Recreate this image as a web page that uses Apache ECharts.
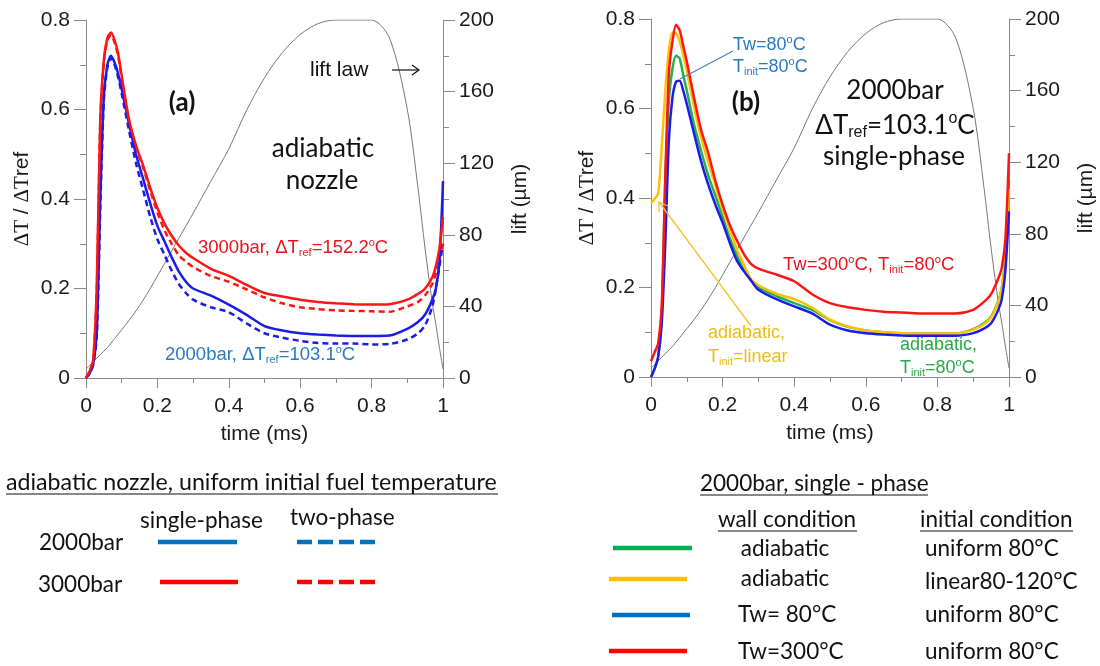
<!DOCTYPE html>
<html>
<head>
<meta charset="utf-8">
<script src="https://cdn.jsdelivr.net/npm/echarts@6/dist/echarts.min.js"></script>
<style>
  html, body { margin: 0; padding: 0; background: #fff; }
  #chart { width: 1100px; height: 666px; }
</style>
</head>
<body>
<div id="chart"></div>
<script>
// shared time grid (ms)
const time = [0, 0.01, 0.02, 0.03, 0.04, 0.05, 0.06, 0.07, 0.08, 0.09, 0.1, 0.12, 0.14, 0.16, 0.18, 0.2,
  0.22, 0.24, 0.26, 0.28, 0.3, 0.35, 0.4, 0.45, 0.5, 0.55, 0.6, 0.65, 0.7, 0.75, 0.8, 0.85, 0.9, 0.93,
  0.95, 0.97, 0.98, 0.99, 1.0];

// needle lift law (µm)
const liftLaw = [5, 7, 9, 11, 13, 15, 17, 19.5, 22, 24.5, 27, 32, 37.5, 43.5, 50, 57,
  64, 71, 78, 85, 92, 110, 128, 149.6, 167.7, 181.8, 191.9, 198, 200, 200, 200, 190, 150, 106,
  72, 42, 30, 17, 5];

// (a) adiabatic nozzle, uniform initial temperature
const a2000Single = [0, 0.01, 0.03, 0.1, 0.4, 0.63, 0.7, 0.72, 0.705, 0.68, 0.645, 0.57, 0.5, 0.445, 0.39, 0.34,
  0.305, 0.27, 0.238, 0.215, 0.2, 0.184, 0.164, 0.141, 0.116, 0.106, 0.1, 0.097, 0.095, 0.094, 0.094, 0.095, 0.11, 0.125,
  0.142, 0.175, 0.2, 0.26, 0.44];
const a2000Two = [0, 0.01, 0.03, 0.09, 0.38, 0.62, 0.695, 0.715, 0.7, 0.672, 0.635, 0.555, 0.48, 0.42, 0.36, 0.31,
  0.275, 0.24, 0.21, 0.19, 0.175, 0.158, 0.147, 0.122, 0.1, 0.09, 0.083, 0.078, 0.077, 0.077, 0.075, 0.076, 0.086, 0.1,
  0.118, 0.16, 0.2, 0.25, 0.3];
const a3000Single = [0, 0.015, 0.04, 0.2, 0.58, 0.71, 0.76, 0.772, 0.755, 0.725, 0.675, 0.58, 0.52, 0.475, 0.425, 0.38,
  0.345, 0.318, 0.296, 0.28, 0.268, 0.244, 0.228, 0.208, 0.19, 0.182, 0.175, 0.17, 0.167, 0.165, 0.164, 0.165, 0.175, 0.188,
  0.2, 0.225, 0.25, 0.29, 0.36];
const a3000Two = [0, 0.015, 0.04, 0.19, 0.57, 0.705, 0.755, 0.766, 0.75, 0.72, 0.67, 0.575, 0.515, 0.47, 0.418, 0.37,
  0.33, 0.3, 0.274, 0.26, 0.248, 0.228, 0.215, 0.198, 0.18, 0.167, 0.158, 0.154, 0.151, 0.15, 0.149, 0.148, 0.16, 0.17,
  0.185, 0.21, 0.235, 0.27, 0.3];

// (b) 2000bar single-phase, wall / initial condition
const bAdiabaticUniform = [0, 0.018, 0.045, 0.14, 0.44, 0.62, 0.69, 0.718, 0.712, 0.675, 0.64, 0.565, 0.505, 0.45, 0.405, 0.358,
  0.31, 0.272, 0.238, 0.215, 0.2, 0.181, 0.165, 0.15, 0.127, 0.112, 0.104, 0.1, 0.098, 0.097, 0.097, 0.097, 0.107, 0.12,
  0.135, 0.17, 0.2, 0.27, 0.44];
const bAdiabaticLinear = [0.388, 0.398, 0.41, 0.515, 0.64, 0.73, 0.77, 0.768, 0.75, 0.72, 0.685, 0.605, 0.535, 0.48, 0.428, 0.375,
  0.33, 0.285, 0.25, 0.218, 0.205, 0.186, 0.174, 0.155, 0.128, 0.113, 0.104, 0.1, 0.098, 0.097, 0.097, 0.097, 0.106, 0.118,
  0.133, 0.168, 0.2, 0.27, 0.42];
const bWall80 = [0, 0.018, 0.045, 0.12, 0.3, 0.53, 0.625, 0.66, 0.662, 0.64, 0.61, 0.545, 0.482, 0.43, 0.385, 0.345,
  0.3, 0.26, 0.236, 0.215, 0.195, 0.174, 0.158, 0.142, 0.117, 0.104, 0.098, 0.095, 0.093, 0.092, 0.092, 0.092, 0.098, 0.108,
  0.12, 0.15, 0.175, 0.24, 0.37];
const bWall300 = [0.035, 0.055, 0.075, 0.16, 0.45, 0.68, 0.75, 0.787, 0.775, 0.74, 0.705, 0.625, 0.552, 0.5, 0.438, 0.385,
  0.34, 0.305, 0.274, 0.252, 0.242, 0.229, 0.214, 0.185, 0.165, 0.156, 0.15, 0.146, 0.144, 0.142, 0.142, 0.142, 0.15, 0.168,
  0.185, 0.22, 0.245, 0.31, 0.5];

const RED = '#ff1414';
const BLUE = '#1c1ce8';
const GREEN = '#22b14c';
const YELLOW = '#ffc000';
const TXT_BLUE = '#2a7abf';
const TXT_RED = '#e8141c';
const TXT_GREEN = '#2aa84a';
const TXT_YELLOW = '#eebb10';
const ARIAL = '"Liberation Sans", Arial, sans-serif';
const CALIBRI = 'Lato, "Noto Sans", sans-serif';

const chart = echarts.init(document.getElementById('chart'));

function pairs(values) {
  return time.map((t, i) => [t, values[i]]);
}

function curve(name, panel, values, color, dashed) {
  return {
    name: name,
    type: 'line',
    xAxisIndex: panel,
    yAxisIndex: panel * 2,
    data: pairs(values),
    showSymbol: false,
    smooth: 0.25,
    silent: true,
    lineStyle: { color: color, width: 2.5, type: dashed ? [6, 4] : 'solid' }
  };
}

function liftCurve(panel) {
  return {
    name: 'lift law',
    type: 'line',
    xAxisIndex: panel,
    yAxisIndex: panel * 2 + 1,
    data: pairs(liftLaw),
    showSymbol: false,
    smooth: 0.3,
    silent: true,
    lineStyle: { color: '#777', width: 1 }
  };
}

const axisColor = '#8a8a8a';
const labelStyle = { color: '#1a1a1a', fontSize: 21, fontFamily: ARIAL };

function xAxisFor(grid) {
  return {
    type: 'value', gridIndex: grid, min: 0, max: 1, interval: 0.2,
    name: 'time (ms)', nameLocation: 'middle', nameGap: 46,
    nameTextStyle: { color: '#1a1a1a', fontSize: 21, fontFamily: ARIAL },
    axisLine: { show: true, lineStyle: { color: axisColor } },
    axisTick: { show: true, length: 10, lineStyle: { color: axisColor } },
    minorTick: { show: true, splitNumber: 2, length: 5, lineStyle: { color: axisColor } },
    splitLine: { show: false },
    axisLabel: Object.assign({ margin: 18 }, labelStyle)
  };
}

function leftAxisFor(grid) {
  return {
    type: 'value', gridIndex: grid, min: 0, max: 0.8, interval: 0.2, position: 'left',
    name: '{s|ΔT} / {s|ΔT}ref', nameLocation: 'middle', nameGap: 53, nameRotate: 90,
    nameTextStyle: {
      color: '#1a1a1a', fontSize: 21, fontFamily: ARIAL,
      rich: { s: { fontSize: 21, fontFamily: '"Liberation Serif", "DejaVu Serif", serif', color: '#1a1a1a' } }
    },
    axisLine: { show: true, lineStyle: { color: axisColor } },
    axisTick: { show: true, length: 12, lineStyle: { color: axisColor } },
    minorTick: { show: true, splitNumber: 2, length: 6, lineStyle: { color: axisColor } },
    splitLine: { show: false },
    axisLabel: Object.assign({ margin: 16 }, labelStyle)
  };
}

function rightAxisFor(grid) {
  return {
    type: 'value', gridIndex: grid, min: 0, max: 200, interval: 40, position: 'right',
    name: 'lift (µm)', nameLocation: 'middle', nameGap: 67, nameRotate: 90,
    nameTextStyle: { color: '#1a1a1a', fontSize: 21, fontFamily: ARIAL },
    axisLine: { show: true, lineStyle: { color: axisColor } },
    axisTick: { show: true, length: 12, lineStyle: { color: axisColor } },
    minorTick: { show: true, splitNumber: 2, length: 6, lineStyle: { color: axisColor } },
    splitLine: { show: false },
    axisLabel: Object.assign({ margin: 16 }, labelStyle)
  };
}

// rich styles for sub/superscripts in annotations
function richFor(size, color) {
  return {
    sub: { fontSize: Math.round(size * 0.62), fill: color, color: color, padding: [Math.round(size * 0.55), 0, 0, 0] },
    sup: { fontSize: Math.round(size * 0.62), fill: color, color: color, padding: [0, 0, Math.round(size * 0.55), 0] }
  };
}

function label(x, y, text, size, color, opts) {
  opts = opts || {};
  return {
    type: 'text', x: x, y: y, silent: true, z: 10,
    style: {
      text: text,
      fill: color,
      fontSize: size,
      fontFamily: opts.family || ARIAL,
      fontWeight: opts.weight || 'normal',
      align: opts.align || 'left',
      textAlign: opts.align || 'left',
      verticalAlign: 'middle',
      textVerticalAlign: 'middle',
      rich: richFor(size, color)
    }
  };
}

function segment(x1, y1, x2, y2, color, width, dash) {
  return {
    type: 'line', silent: true, z: 10,
    shape: { x1: x1, y1: y1, x2: x2, y2: y2 },
    style: { stroke: color, lineWidth: width, lineDash: dash || null }
  };
}

function arrowHead(points, color, width) {
  return {
    type: 'polyline', silent: true, z: 10,
    shape: { points: points },
    style: { stroke: color, lineWidth: width, fill: null }
  };
}

const graphics = [
  // panel (a) annotations
  label(182, 103, '(a)', 26, '#111', { family: CALIBRI, weight: 'bold', align: 'center' }),
  label(323, 149, 'adiabatic', 26, '#111', { family: CALIBRI, align: 'center' }),
  label(322, 181, 'nozzle', 26, '#111', { family: CALIBRI, align: 'center' }),
  label(310, 70, 'lift law', 21, '#111'),
  segment(392, 70, 419, 70, '#111', 1.2),
  arrowHead([[412, 65], [419, 70], [412, 75]], '#111', 1.2),
  label(198, 248, '3000bar, ΔT{sub|ref}=152.2{sup|o}C', 18.5, TXT_RED),
  label(165, 355, '2000bar, ΔT{sub|ref}=103.1{sup|o}C', 18.5, TXT_BLUE),

  // panel (b) annotations
  label(746, 103, '(b)', 26, '#111', { family: CALIBRI, weight: 'bold', align: 'center' }),
  label(733, 45, 'Tw=80{sup|o}C', 18, TXT_BLUE),
  label(733, 67, 'T{sub|init}=80{sup|o}C', 18, TXT_BLUE),
  segment(733, 51, 680, 79, '#4a7ebb', 1.2),
  label(895, 91, '2000bar', 26, '#111', { family: CALIBRI, align: 'center' }),
  label(895, 126, 'ΔT{sub|ref}=103.1{sup|o}C', 26, '#111', { family: CALIBRI, align: 'center' }),
  label(894, 157, 'single-phase', 26, '#111', { family: CALIBRI, align: 'center' }),
  label(783, 265, 'Tw=300{sup|o}C, T{sub|init}=80{sup|o}C', 18.5, TXT_RED),
  label(708, 333, 'adiabatic,', 18, TXT_YELLOW),
  label(708, 357, 'T{sub|init}=linear', 18, TXT_YELLOW),
  segment(751, 326, 659, 202, '#f2c230', 1.3),
  arrowHead([[659, 212], [659, 202], [668, 206]], '#f2c230', 1.3),
  label(900, 345, 'adiabatic,', 18, TXT_GREEN),
  label(900, 368, 'T{sub|init}=80{sup|o}C', 18, TXT_GREEN),

  // left legend
  label(6, 483, 'adiabatic nozzle, uniform initial fuel temperature', 23.2, '#111', { family: CALIBRI }),
  segment(6, 494, 498, 494, '#111', 1),
  label(140, 521, 'single-phase', 22.5, '#111', { family: CALIBRI }),
  label(290, 518, 'two-phase', 22.5, '#111', { family: CALIBRI }),
  label(39, 543, '2000bar', 22.5, '#111', { family: CALIBRI }),
  label(38, 585, '3000bar', 22.5, '#111', { family: CALIBRI }),
  segment(158, 542, 237, 542, '#0070c0', 4.5),
  segment(297, 542, 377, 542, '#0070c0', 4.5, [15, 6]),
  segment(160, 582, 238, 582, '#ff0000', 4.5),
  segment(297, 582, 377, 582, '#ff0000', 4.5, [15, 6]),

  // right legend
  label(700, 484, '2000bar, single - phase', 22.5, '#111', { family: CALIBRI }),
  segment(700, 495, 928, 495, '#111', 1),
  label(718, 520, 'wall condition', 22.5, '#111', { family: CALIBRI }),
  segment(718, 531, 857, 531, '#111', 1),
  label(920, 520, 'initial condition', 22.5, '#111', { family: CALIBRI }),
  segment(920, 531, 1073, 531, '#111', 1),
  segment(613, 548, 692, 548, '#00b050', 4.5),
  segment(609, 579, 687, 579, YELLOW, 4.5),
  segment(612, 615, 690, 615, '#0070c0', 4.5),
  segment(609, 651, 687, 651, '#ff0000', 4.5),
  label(785, 549, 'adiabatic', 22.5, '#111', { family: CALIBRI, align: 'center' }),
  label(785, 579, 'adiabatic', 22.5, '#111', { family: CALIBRI, align: 'center' }),
  label(738, 615, 'Tw= 80°C', 22.5, '#111', { family: CALIBRI }),
  label(738, 652, 'Tw=300°C', 22.5, '#111', { family: CALIBRI }),
  label(925, 549, 'uniform 80°C', 22.5, '#111', { family: CALIBRI }),
  label(925, 582, 'linear80-120°C', 22.5, '#111', { family: CALIBRI }),
  label(925, 615, 'uniform 80°C', 22.5, '#111', { family: CALIBRI }),
  label(925, 652, 'uniform 80°C', 22.5, '#111', { family: CALIBRI })
];

const option = {
  animation: false,
  backgroundColor: '#fff',
  grid: [
    { left: 86, top: 20, width: 357, height: 358 },
    { left: 651, top: 19, width: 358, height: 358 }
  ],
  xAxis: [xAxisFor(0), xAxisFor(1)],
  yAxis: [leftAxisFor(0), rightAxisFor(0), leftAxisFor(1), rightAxisFor(1)],
  series: [
    liftCurve(0),
    curve('2000bar two-phase', 0, a2000Two, BLUE, true),
    curve('3000bar two-phase', 0, a3000Two, RED, true),
    curve('2000bar single-phase', 0, a2000Single, BLUE, false),
    curve('3000bar single-phase', 0, a3000Single, RED, false),
    liftCurve(1),
    curve('adiabatic, uniform 80°C', 1, bAdiabaticUniform, GREEN, false),
    curve('adiabatic, linear 80-120°C', 1, bAdiabaticLinear, YELLOW, false),
    curve('Tw=80°C, uniform 80°C', 1, bWall80, BLUE, false),
    curve('Tw=300°C, uniform 80°C', 1, bWall300, RED, false)
  ],
  graphic: graphics
};

chart.setOption(option);
</script>
</body>
</html>
